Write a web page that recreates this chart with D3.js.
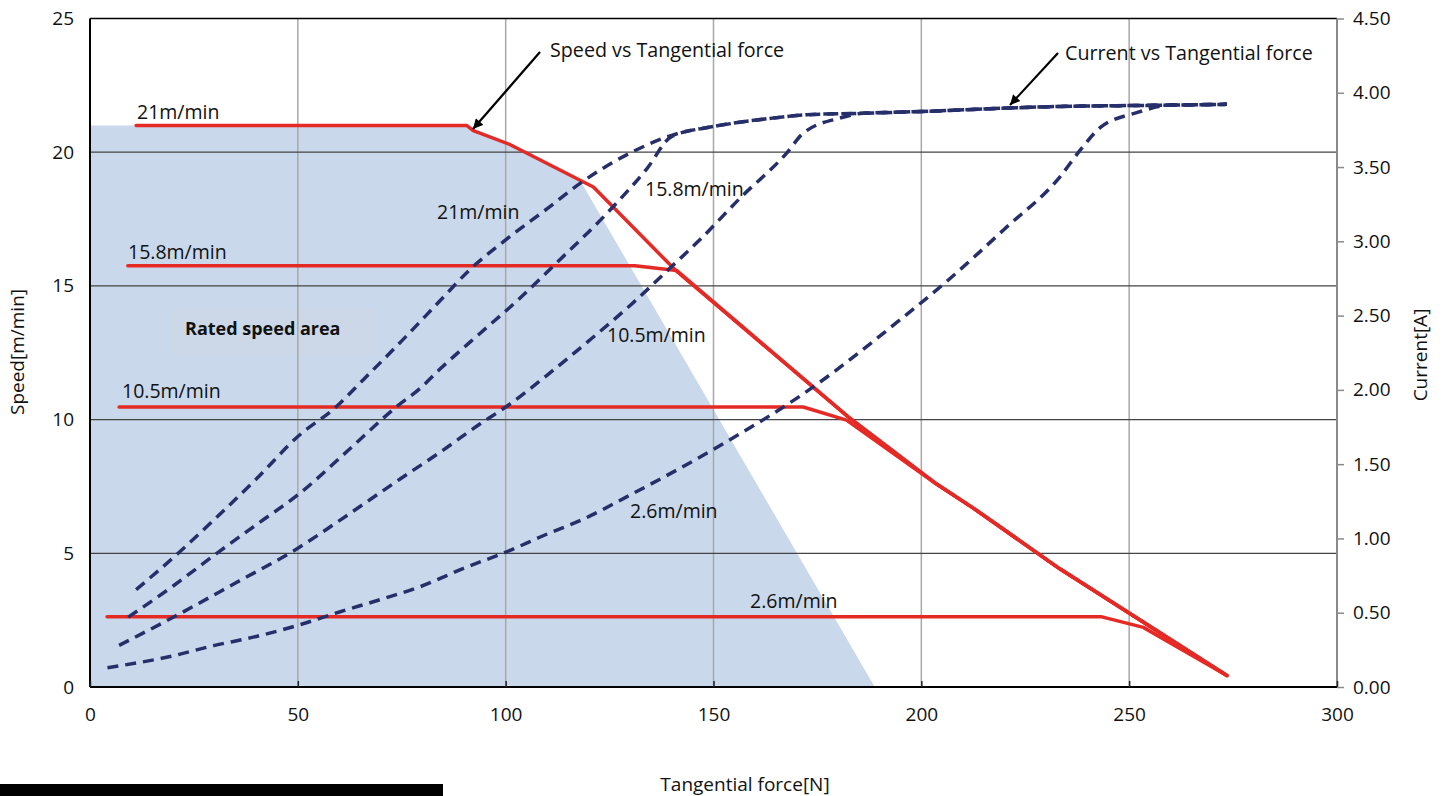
<!DOCTYPE html>
<html>
<head>
<meta charset="utf-8">
<script src="https://cdn.jsdelivr.net/npm/d3@7"></script>
<style>
  body { margin: 0; background: #fff; }
  text { font-family: 'Open Sans', sans-serif; fill: #111; }
</style>
</head>
<body>
<div class="canvas"></div>
<script>
// ticks
const forceTicks = [0, 50, 100, 150, 200, 250, 300];
const speedTicks = [0, 5, 10, 15, 20, 25];
const currentTicks = [0, 0.5, 1, 1.5, 2, 2.5, 3, 3.5, 4, 4.5];

// speed vs tangential force [N, m/min]
const speed21 = [[11.1, 21], [90.6, 21], [92.2, 20.81], [101, 20.29], [117.9, 18.95], [121.1, 18.7], [140.7, 15.61], [182.4, 10.1], [203.2, 7.64], [212.4, 6.7], [233.3, 4.42], [273.5, 0.43]];
const speed158 = [[9.1, 15.75], [131.1, 15.75], [141.1, 15.58], [182.4, 10.1], [203.2, 7.64], [212.4, 6.7], [233.3, 4.42], [273.5, 0.43]];
const speed105 = [[7, 10.47], [171.6, 10.47], [182, 9.98], [203.2, 7.64], [212.4, 6.7], [233.3, 4.42], [273.5, 0.43]];
const speed26 = [[4.1, 2.63], [243.2, 2.63], [253.4, 2.23], [273.5, 0.43]];

// current vs tangential force [N, A]
const current21 = [[11.1, 0.655], [21.2, 0.9], [30, 1.13], [40, 1.4], [50, 1.686], [59.3, 1.888], [65.7, 2.067], [75, 2.33], [84.2, 2.6], [91.4, 2.81], [100, 3.01], [110, 3.22], [117.9, 3.39], [130.7, 3.605], [140.3, 3.717], [150, 3.773], [164.4, 3.83], [172.4, 3.852], [186, 3.862], [200, 3.874], [220.5, 3.897], [233.4, 3.908], [253.4, 3.915], [273.5, 3.922]];
const current158 = [[9.2, 0.47], [20, 0.68], [30.5, 0.9], [40.9, 1.11], [50, 1.293], [62, 1.59], [73.8, 1.888], [79.4, 2.01], [84.2, 2.14], [93.8, 2.38], [103, 2.606], [111.5, 2.835], [125.9, 3.234], [134, 3.49], [139.9, 3.705], [150, 3.773], [164.4, 3.83], [172.4, 3.852], [186, 3.862], [200, 3.874], [220.5, 3.897], [233.4, 3.908], [253.4, 3.915], [273.5, 3.922]];
const current105 = [[7, 0.28], [20, 0.469], [35, 0.7], [50, 0.934], [60, 1.12], [74.6, 1.4], [84.2, 1.58], [93.8, 1.77], [100.2, 1.888], [110, 2.1], [120, 2.33], [130, 2.57], [140.3, 2.84], [146.7, 3.01], [156.4, 3.291], [167.6, 3.594], [171.6, 3.728], [180.4, 3.83], [186, 3.862], [200, 3.874], [220.5, 3.897], [233.4, 3.908], [253.4, 3.915], [273.5, 3.922]];
const current26 = [[4.2, 0.13], [18.4, 0.2], [30, 0.28], [40, 0.34], [50, 0.415], [60, 0.505], [70, 0.59], [79.4, 0.675], [90, 0.8], [100.2, 0.91], [110, 1.03], [118.7, 1.13], [129.1, 1.28], [150, 1.6], [174, 2.02], [194.8, 2.47], [206.5, 2.74], [219.9, 3.08], [233.4, 3.436], [238.4, 3.62], [243, 3.765], [251.8, 3.866], [260, 3.917], [273.5, 3.922]];

// rated speed area outline [N, m/min]
const ratedArea = [[0, 0], [0, 21], [90.6, 21], [92.2, 20.81], [101, 20.29], [117.9, 18.95], [188.8, 0]];

const svg = d3.select('.canvas')
	.append('svg')
	.attr('width', 1446)
	.attr('height', 796);

const margin = { top: 18.5, right: 109, bottom: 109, left: 90 };
const graphWidth = 1446 - margin.left - margin.right;
const graphHeight = 796 - margin.top - margin.bottom;

const graph = svg.append('g')
	.attr('transform', `translate(${margin.left},${margin.top})`);

// scales
const x = d3.scaleLinear().domain([0, 300]).range([0, graphWidth]);
const y = d3.scaleLinear().domain([0, 25]).range([graphHeight, 0]);
const y2 = d3.scaleLinear().domain([0, 4.5]).range([graphHeight, 0]);

// rated speed area
graph.append('path')
	.attr('d', d3.line().x(d => x(d[0])).y(d => y(d[1]))(ratedArea) + 'Z')
	.attr('fill', '#c9d8eb');

graph.append('rect')
	.attr('x', 82).attr('y', 290)
	.attr('width', 203).attr('height', 46)
	.attr('fill', '#ccd8e7');

// grid
graph.append('g').selectAll('line')
	.data(forceTicks.slice(1, -1))
	.enter().append('line')
	.attr('x1', d => x(d)).attr('x2', d => x(d))
	.attr('y1', 0).attr('y2', graphHeight)
	.attr('stroke', '#a8a8a8')
	.attr('stroke-width', 1.5);

graph.append('g').selectAll('line')
	.data(speedTicks.slice(1, -1))
	.enter().append('line')
	.attr('x1', 0).attr('x2', graphWidth)
	.attr('y1', d => y(d)).attr('y2', d => y(d))
	.attr('stroke', '#444')
	.attr('stroke-width', 1.3);

// frame
graph.append('line').attr('x1', 0).attr('x2', graphWidth).attr('y1', 0).attr('y2', 0)
	.attr('stroke', '#000').attr('stroke-width', 1.6);
graph.append('line').attr('x1', graphWidth).attr('x2', graphWidth).attr('y1', 0).attr('y2', graphHeight)
	.attr('stroke', '#8a8a8a').attr('stroke-width', 2);
graph.append('line').attr('x1', 0).attr('x2', 0).attr('y1', 0).attr('y2', graphHeight)
	.attr('stroke', '#000').attr('stroke-width', 2);
graph.append('line').attr('x1', 0).attr('x2', graphWidth).attr('y1', graphHeight).attr('y2', graphHeight)
	.attr('stroke', '#000').attr('stroke-width', 2);

// axes
const xAxis = d3.axisBottom(x).tickValues(forceTicks).tickSize(-6).tickPadding(21);
const yAxis = d3.axisLeft(y).tickValues(speedTicks).tickSize(0).tickPadding(16);
const y2Axis = d3.axisRight(y2).tickValues(currentTicks).tickSize(7).tickPadding(9).tickFormat(d3.format('.2f'));

const xAxisGroup = graph.append('g').attr('transform', `translate(0,${graphHeight})`).call(xAxis);
const yAxisGroup = graph.append('g').call(yAxis);
const y2AxisGroup = graph.append('g').attr('transform', `translate(${graphWidth},0)`).call(y2Axis);

[xAxisGroup, yAxisGroup, y2AxisGroup].forEach(g => {
	g.select('.domain').remove();
	g.selectAll('text')
		.attr('font-family', 'Open Sans')
		.attr('font-size', 19)
		.attr('fill', '#111');
});
xAxisGroup.selectAll('line').attr('stroke', '#222').attr('stroke-width', 1.5);
y2AxisGroup.selectAll('line').attr('stroke', '#8a8a8a').attr('stroke-width', 1.5);

// speed lines
const line = d3.line().x(d => x(d[0])).y(d => y(d[1]));
graph.append('g').selectAll('path')
	.data([speed21, speed158, speed105, speed26])
	.enter().append('path')
	.attr('d', line)
	.attr('fill', 'none')
	.attr('stroke', '#e52a25')
	.attr('stroke-width', 3.5)
	.attr('stroke-linecap', 'round')
	.attr('stroke-linejoin', 'round');

// current lines
const currentLine = d3.line().x(d => x(d[0])).y(d => y2(d[1])).curve(d3.curveMonotoneX);
graph.append('g').selectAll('path')
	.data([current21, current158, current105, current26])
	.enter().append('path')
	.attr('d', currentLine)
	.attr('fill', 'none')
	.attr('stroke', '#272f6b')
	.attr('stroke-width', 3.5)
	.attr('stroke-dasharray', '11,7');

// labels
const label = (txt, px, py, opts = {}) => svg.append('text')
	.attr('x', px).attr('y', py)
	.attr('font-size', opts.size || 19.5)
	.attr('font-weight', opts.weight || 'normal')
	.attr('fill', opts.fill || '#111')
	.text(txt);

label('21m/min', 137, 119);
label('15.8m/min', 128, 259);
label('10.5m/min', 122, 398);
label('2.6m/min', 750, 608);

label('21m/min', 437, 219);
label('15.8m/min', 645, 196);
label('10.5m/min', 607, 342);
label('2.6m/min', 630, 518);

label('Rated speed area', 185, 335, { size: 18, weight: 'bold', fill: '#2a2a2a' });

label('Speed vs Tangential force', 550, 57, { size: 19.7 });
label('Current vs Tangential force', 1065, 60, { size: 19.7 });

// arrows
svg.append('defs').append('marker')
	.attr('id', 'arrow')
	.attr('viewBox', '0 0 10 10')
	.attr('refX', 10).attr('refY', 5)
	.attr('markerWidth', 5).attr('markerHeight', 4.5)
	.attr('markerUnits', 'strokeWidth')
	.attr('orient', 'auto')
	.append('path')
	.attr('d', 'M0,0L10,5L0,10Z')
	.attr('fill', '#000');

svg.append('line')
	.attr('x1', 540).attr('y1', 52).attr('x2', 473).attr('y2', 129)
	.attr('stroke', '#000').attr('stroke-width', 2.2)
	.attr('marker-end', 'url(#arrow)');
svg.append('line')
	.attr('x1', 1058).attr('y1', 53).attr('x2', 1010).attr('y2', 105)
	.attr('stroke', '#000').attr('stroke-width', 2.2)
	.attr('marker-end', 'url(#arrow)');

// axis titles
svg.append('text')
	.attr('transform', 'translate(24,352) rotate(-90)')
	.attr('text-anchor', 'middle')
	.attr('font-size', 19)
	.text('Speed[m/min]');
svg.append('text')
	.attr('transform', 'translate(1427,355) rotate(-90)')
	.attr('text-anchor', 'middle')
	.attr('font-size', 19)
	.text('Current[A]');
svg.append('text')
	.attr('x', 745).attr('y', 791)
	.attr('text-anchor', 'middle')
	.attr('font-size', 19)
	.text('Tangential force[N]');

// bar at the bottom left
svg.append('rect')
	.attr('x', 0).attr('y', 784)
	.attr('width', 443).attr('height', 12)
	.attr('fill', '#000');
</script>
</body>
</html>
